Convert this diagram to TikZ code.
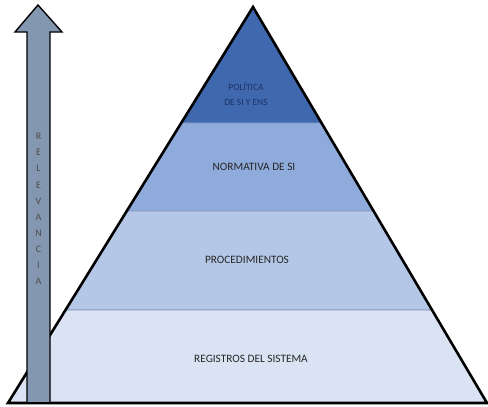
\documentclass[tikz,border=0pt]{standalone}
\usepackage{fontspec}
\setmainfont{Carlito}
\usetikzlibrary{calc}

\definecolor{bandone}{HTML}{4068AE}
\definecolor{bandtwo}{HTML}{8FABDB}
\definecolor{bandthree}{HTML}{B5C7E7}
\definecolor{bandfour}{HTML}{DAE3F3}
\definecolor{arrowfill}{HTML}{8497B0}
\definecolor{bandline}{HTML}{8196BA}
\definecolor{toptext}{HTML}{1C3468}

\begin{document}
\begin{tikzpicture}[
    x=1pt, y=-1pt,
    band_style/.style={draw=bandline, line width=0.8pt},
    edge_style/.style={line width=2.6pt, black, line join=miter},
    label_style/.style={font=\fontsize{11.3}{13}\selectfont, text=black!85, align=center, inner sep=0pt},
    arrow_style/.style={fill=arrowfill, draw=black, line width=1.4pt, line join=miter}
]
    \useasboundingbox (0,0) rectangle (488,407);

    \coordinate (apex) at (253,7);
    \coordinate (base_l) at (8,403);
    \coordinate (base_r) at (487,403);

    % Band borders on the sides
    \coordinate (l_1) at ($(apex)!0.2929!(base_l)$);
    \coordinate (r_1) at ($(apex)!0.2929!(base_r)$);
    \coordinate (l_2) at ($(apex)!0.5151!(base_l)$);
    \coordinate (r_2) at ($(apex)!0.5151!(base_r)$);
    \coordinate (l_3) at ($(apex)!0.7652!(base_l)$);
    \coordinate (r_3) at ($(apex)!0.7652!(base_r)$);

    % Bands
    \fill[bandone] (apex) -- (l_1) -- (r_1) -- cycle;
    \filldraw[band_style, fill=bandtwo] (l_1) -- (l_2) -- (r_2) -- (r_1) -- cycle;
    \filldraw[band_style, fill=bandthree] (l_2) -- (l_3) -- (r_3) -- (r_2) -- cycle;
    \filldraw[band_style, fill=bandfour] (l_3) -- (base_l) -- (base_r) -- (r_3) -- cycle;

    % Outline
    \draw[edge_style] (apex) -- (base_l) -- (base_r) -- cycle;

    % Labels
    \node[label_style, font=\fontsize{9.5}{15}\selectfont, text=toptext] (politica) at (246,94.5)
        {POLÍTICA\\DE SI Y ENS};
    \node[label_style] (normativa) at (254,167) {NORMATIVA DE SI};
    \node[label_style] (procedimientos) at (247,260) {PROCEDIMIENTOS};
    \node[label_style] (registros) at (251,359) {REGISTROS DEL SISTEMA};

    % Relevance arrow
    \draw[arrow_style] (27,403) -- (27,32) -- (15,32) -- (38,5) -- (62,32)
        -- (50,32) -- (50,403) -- cycle;
    \node[label_style, font=\fontsize{10}{16.1}\selectfont, text=black!70] (relevancia) at (38.5,209)
        {R\\E\\L\\E\\V\\A\\N\\C\\I\\A};

    % Base line on top
    \draw[edge_style] (base_l) -- (base_r);

\end{tikzpicture}
\end{document}
